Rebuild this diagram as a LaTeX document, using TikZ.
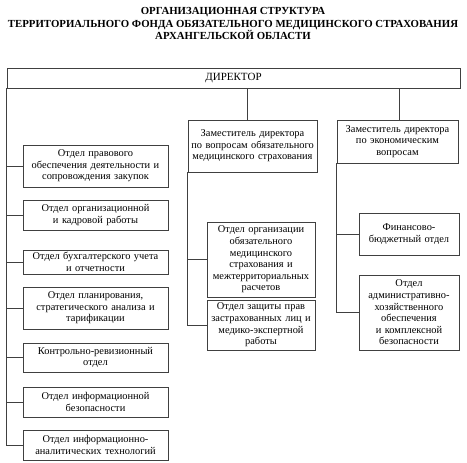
\documentclass[tikz,border=0pt]{standalone}
\usepackage{fontspec}
\setmainfont{Liberation Serif}
\begin{document}
\begin{tikzpicture}[x=1pt, y=-1pt,
    box/.style={draw=black!75, line width=0.6pt, align=center, inner sep=1pt,
      font=\fontsize{10.4}{11.6}\selectfont},
    lbox/.style={box, text width=143pt, minimum height=#1},
    mbox/.style={box, text width=106pt, minimum height=#1},
    rbox/.style={box, text width=98pt, minimum height=#1},
    link/.style={draw=black!75, line width=0.6pt}]
  % \draw[help lines, gray!50, very thin] (0,0) grid[step=20] (467,463);
  \useasboundingbox (0,0) rectangle (467,463);

  \node[align=center, font=\bfseries\fontsize{10.8}{12.3}\selectfont] (title) at (233,23.5)
    {ОРГАНИЗАЦИОННАЯ СТРУКТУРА\\ТЕРРИТОРИАЛЬНОГО ФОНДА ОБЯЗАТЕЛЬНОГО МЕДИЦИНСКОГО СТРАХОВАНИЯ\\АРХАНГЕЛЬСКОЙ ОБЛАСТИ};

  \node[box, text width=451pt, minimum height=20pt, font=\fontsize{11}{12}\selectfont] (director) at (233.5,78) {ДИРЕКТОР};

  % deputies
  \node[box, text width=127pt, minimum height=52pt] (depmed) at (252.5,146)
    {Заместитель директора\\по вопросам обязательного\\медицинского страхования};
  \node[box, text width=119pt, minimum height=43pt] (depeco) at (397.5,141.5)
    {Заместитель директора\\по экономическим\\вопросам};

  % departments under the director
  \node[lbox=42pt] (dlaw) at (95.5,166) {Отдел правового\\обеспечения деятельности и\\сопровождения закупок};
  \node[lbox=30pt] (dstaff) at (95.5,215) {Отдел организационной\\и кадровой работы};
  \node[lbox=24pt] (dacc) at (95.5,262) {Отдел бухгалтерского учета\\и отчетности};
  \node[lbox=42pt] (dplan) at (95.5,308) {Отдел планирования,\\стратегического анализа и\\тарификации};
  \node[lbox=29pt] (daudit) at (95.5,357.5) {Контрольно-ревизионный\\отдел};
  \node[lbox=30pt] (dsec) at (95.5,402) {Отдел информационной\\безопасности};
  \node[lbox=30pt] (dit) at (95.5,445) {Отдел информационно-\\аналитических технологий};

  % departments under the deputy for insurance
  \node[mbox=75pt] (dorg) at (261,259.5) {Отдел организации\\обязательного\\медицинского\\страхования и\\межтерриториальных\\расчетов};
  \node[mbox=50pt] (drights) at (261,325) {Отдел защиты прав\\застрахованных лиц и\\медико-экспертной\\работы};

  % departments under the deputy for economy
  \node[rbox=42pt] (dfin) at (409,234) {Финансово-\\бюджетный отдел};
  \node[rbox=75pt] (dadm) at (409,312.5) {Отдел\\административно-\\хозяйственного\\обеспечения\\и комплексной\\безопасности};

  % connectors
  \coordinate (medtop) at (247,0);
  \coordinate (ecotop) at (399,0);
  \draw[link] (director.south -| medtop) -- (depmed.north -| medtop);
  \draw[link] (director.south -| ecotop) -- (depeco.north -| ecotop);
  \draw[link] (director.south west) |- (dit.west);
  \foreach \n in {dlaw,dstaff,dacc,dplan,daudit,dsec}
    \draw[link] (director.south west |- \n.west) -- (\n.west);
  \draw[link] (depmed.south west) |- (drights.west);
  \draw[link] (depmed.south west |- dorg.west) -- (dorg.west);
  \draw[link] (depeco.south west) |- (dadm.west);
  \draw[link] (depeco.south west |- dfin.west) -- (dfin.west);
\end{tikzpicture}
\end{document}
